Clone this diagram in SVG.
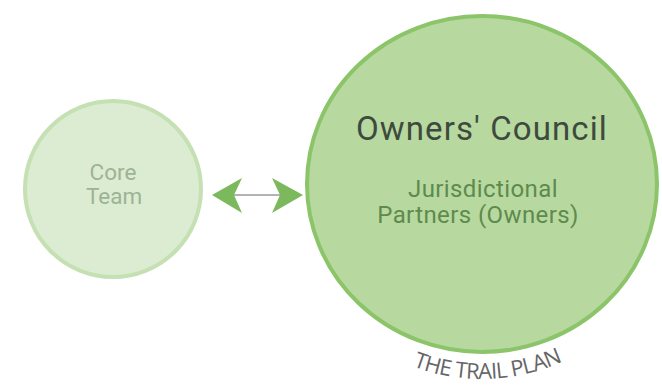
<svg xmlns="http://www.w3.org/2000/svg" width="662" height="385" viewBox="0 0 662 385">
<defs>
<style>
.core{fill:#dcecd2;stroke:#c5e0b3;stroke-width:4}
.owners{fill:#b7d99f;stroke:#8cc46a;stroke-width:4}
.t-core{font-family:Roboto,"Liberation Sans",sans-serif;font-size:22.5px;fill:#9db394;text-anchor:middle}
.t-title{font-family:Roboto,"Liberation Sans",sans-serif;font-size:33px;letter-spacing:1.1px;fill:#3e4a3e;text-anchor:middle}
.t-sub{font-family:Roboto,"Liberation Sans",sans-serif;font-size:24px;letter-spacing:0.4px;fill:#5e8a4e;text-anchor:middle}
.t-plan{font-family:"Open Sans","Liberation Sans",sans-serif;font-size:22px;letter-spacing:-0.8px;fill:#666666;text-anchor:middle}
.head{fill:#7cb85c}
.shaft{stroke:#9a9a9a;stroke-width:1.5;fill:none}
</style>
<path id="planArc" d="M 287,184 A 195 195 0 0 0 677,184"/>
</defs>
<rect width="662" height="385" fill="#ffffff"/>
<g id="core-team">
<circle class="core" cx="113" cy="189" r="88"/>
<text class="t-core" x="113" y="180">Core</text>
<text class="t-core" x="114" y="204">Team</text>
</g>
<g id="owners-council">
<ellipse class="owners" cx="482" cy="184" rx="175" ry="168"/>
<text class="t-title" x="482" y="140">Owners' Council</text>
<text class="t-sub" x="483" y="197">Jurisdictional</text>
<text class="t-sub" x="478" y="223">Partners (Owners)</text>
</g>
<g id="trail-plan">
<text class="t-plan"><textPath href="#planArc" startOffset="312">THE TRAIL PLAN</textPath></text>
</g>
<g id="connectors">
<line class="shaft" x1="232" y1="195" x2="282" y2="195"/>
<polygon class="head" points="212,195 242,178 234,195 242,213"/>
<polygon class="head" points="303,195 272,178 280,195 272,213"/>
</g>
</svg>
